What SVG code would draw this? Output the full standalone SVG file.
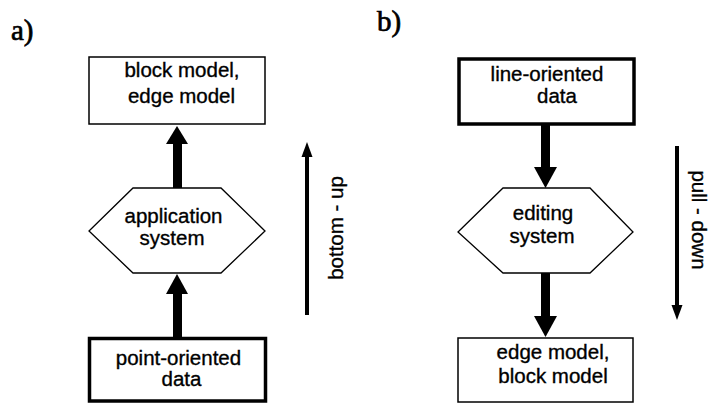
<svg xmlns="http://www.w3.org/2000/svg" width="710" height="404" viewBox="0 0 710 404">
  <style>
    .lbl { font-family: "Liberation Sans", Arial, sans-serif; font-size: 20.5px; fill: #000; stroke: #000; stroke-width: 0.35; text-anchor: middle; }
    .tag { font-family: "Liberation Serif", "Times New Roman", serif; font-size: 29px; fill: #000; stroke: #000; stroke-width: 0.7; }
    .thin { fill: #fff; stroke: #000; stroke-width: 1.5; }
    .thick { fill: #fff; stroke: #000; stroke-width: 3.5; }
    .hex { fill: #fff; stroke: #000; stroke-width: 1.3; }
    .shaft { fill: #000; }
    .dir { stroke: #000; stroke-width: 4; fill: none; }
  </style>

  <!-- panel labels -->
  <text class="tag" x="11" y="40">a)</text>
  <text class="tag" x="377" y="31">b)</text>

  <!-- panel a: bottom-up -->
  <g id="a-block-edge-model">
    <rect class="thin" x="89" y="57" width="176" height="67"/>
    <text class="lbl" x="182" y="77">block model,</text>
    <text class="lbl" x="181.5" y="103">edge model</text>
  </g>
  <g id="a-application-system">
    <polygon class="hex" points="133,188 221,188 265,231 221,273 133,273 89,231"/>
    <text class="lbl" x="173.5" y="223">application</text>
    <text class="lbl" x="172" y="245">system</text>
  </g>
  <g id="a-point-oriented-data">
    <rect class="thick" x="89.5" y="338.5" width="176" height="62.5"/>
    <text class="lbl" x="178.5" y="365">point-oriented</text>
    <text class="lbl" x="181.5" y="386">data</text>
  </g>

  <!-- panel b: pull-down -->
  <g id="b-line-oriented-data">
    <rect class="thick" x="459" y="59" width="175" height="65"/>
    <text class="lbl" x="547" y="81">line-oriented</text>
    <text class="lbl" x="557" y="103">data</text>
  </g>
  <g id="b-editing-system">
    <polygon class="hex" points="503,188 590,188 633,232 590,273 503,273 458,232"/>
    <text class="lbl" x="543" y="220">editing</text>
    <text class="lbl" x="542" y="243">system</text>
  </g>
  <g id="b-edge-block-model">
    <rect class="thin" x="458" y="338" width="175" height="64"/>
    <text class="lbl" x="553" y="359">edge model,</text>
    <text class="lbl" x="553" y="383">block model</text>
  </g>

  <!-- connectors -->
  <g id="connectors">
    <!-- a: data -> application system -> models -->
    <rect class="shaft" x="173" y="292" width="9" height="46"/>
    <polygon class="shaft" points="166,294 188,294 177,274"/>
    <rect class="shaft" x="173" y="142" width="9" height="46"/>
    <polygon class="shaft" points="166,144 188,144 177,126"/>
    <!-- b: data -> editing system -> models -->
    <rect class="shaft" x="541" y="124" width="9" height="45"/>
    <polygon class="shaft" points="534,167 557,167 545.5,188"/>
    <rect class="shaft" x="541" y="273" width="9" height="45"/>
    <polygon class="shaft" points="534,316 557,316 545.5,337"/>
  </g>

  <!-- direction indicators -->
  <g id="bottom-up">
    <line class="dir" x1="307" y1="315" x2="307" y2="154"/>
    <polygon class="shaft" points="301.5,157 312.5,157 307,142"/>
    <text class="lbl" transform="translate(343,228) rotate(-90)" x="0" y="0">bottom - up</text>
  </g>
  <g id="pull-down">
    <line class="dir" x1="677" y1="146" x2="677" y2="308"/>
    <polygon class="shaft" points="671.5,305 682.5,305 677,320"/>
    <text class="lbl" transform="translate(692,220) rotate(90)" x="0" y="0">pull - down</text>
  </g>
</svg>
